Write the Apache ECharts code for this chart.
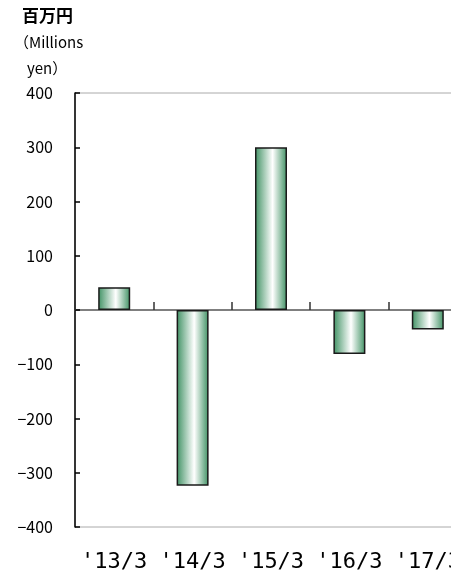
<!DOCTYPE html>
<html><head><meta charset="utf-8">
<script src="https://cdn.jsdelivr.net/npm/echarts@6/dist/echarts.min.js"></script>
<style>html,body{margin:0;padding:0;background:#fff}#c{width:451px;height:573px}</style>
</head><body><div id="c"></div>
<script>
var categories = ["'13/3", "'14/3", "'15/3", "'16/3", "'17/3"];
var values = [42, -324, 300, -81, -36];
var yTitle = ["百万円", "（Millions", "yen）"];

var chart = echarts.init(document.getElementById('c'), null, {renderer: 'canvas'});
var green = '#3f9163';
chart.setOption({
  animation: false,
  grid: {left: 75, top: 93, bottom: 46, width: 392, outerBoundsMode: 'none', containLabel: false,
    show: true, borderColor: '#aaaaaa', borderWidth: 1, backgroundColor: 'transparent'},
  graphic: [
    {type: 'text', left: 22, top: 7, style: {text: yTitle[0], font: 'bold 17px "Noto Sans CJK JP"', fill: '#000'}},
    {type: 'text', left: 14, top: 35, style: {text: yTitle[1], font: '15px "Noto Sans CJK JP"', fill: '#000'}},
    {type: 'text', left: 27, top: 61, style: {text: yTitle[2], font: '15px "Noto Sans CJK JP"', fill: '#000'}}
  ],
  xAxis: [
    {type: 'category', data: categories, position: 'bottom',
     axisLine: {show: false, onZero: false}, axisTick: {show: false},
     axisLabel: {interval: 0, hideOverlap: false, color: '#000', fontSize: 22, fontFamily: '"DejaVu Sans Mono"', margin: 24}},
    {type: 'category', data: categories, position: 'top',
     axisLine: {show: true, onZero: true, lineStyle: {color: '#555', width: 1.5}},
     axisTick: {show: true, inside: false, length: 8, interval: 0, lineStyle: {color: '#333', width: 1.5}},
     axisLabel: {show: false}}
  ],
  yAxis: {type: 'value', min: -400, max: 400, interval: 100,
    axisLine: {show: true, lineStyle: {color: '#000', width: 1.5}},
    axisTick: {show: true, inside: true, length: 5, lineStyle: {color: '#000', width: 1.5}},
    splitLine: {show: false},
    axisLabel: {color: '#000', fontSize: 16, fontFamily: '"Noto Sans CJK JP"', margin: 22,
      formatter: function (v) { return String(v).replace('-', '−'); }}
  },
  series: [{
    type: 'bar', data: values, xAxisIndex: 0, barWidth: 32,
    itemStyle: {
      borderColor: '#1a1a1a', borderWidth: 1.5,
      color: {type: 'linear', x: 0, y: 0, x2: 1, y2: 0, colorStops: [
        {offset: 0, color: green}, {offset: 0.55, color: '#ffffff'}, {offset: 1, color: green}
      ]}
    }
  }]
});
</script></body></html>
